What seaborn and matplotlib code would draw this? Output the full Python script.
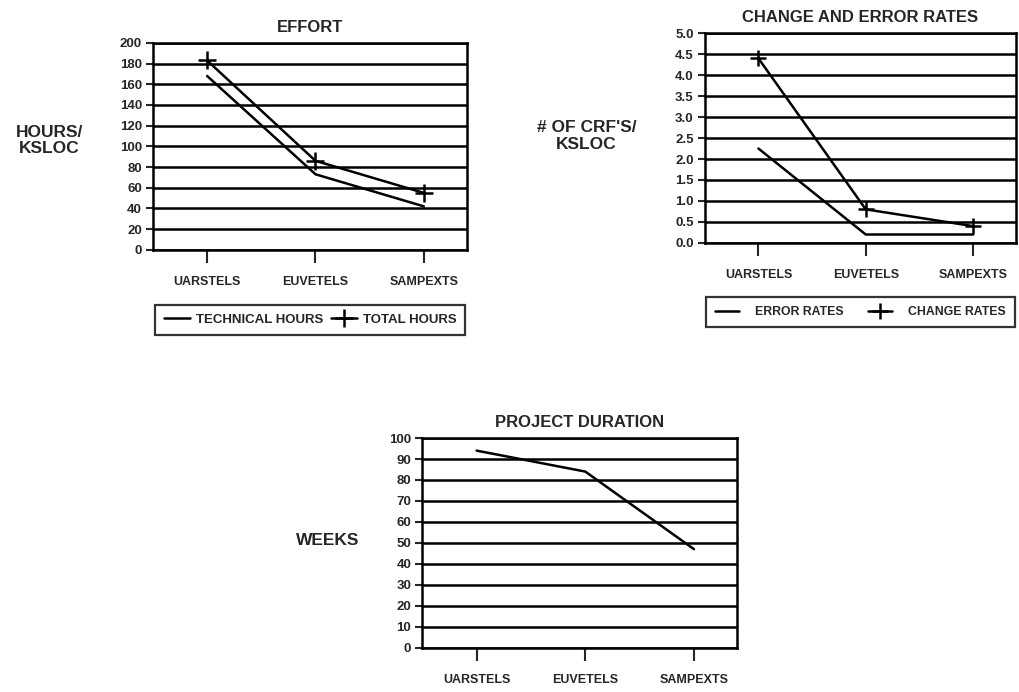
import matplotlib
matplotlib.use('Agg')
import matplotlib.pyplot as plt
import seaborn as sns

# data
projects = ['UARSTELS', 'EUVETELS', 'SAMPEXTS']
technical_hours = [168, 73, 42]
total_hours = [183, 86, 55]
error_rates = [2.25, 0.2, 0.2]
change_rates = [4.4, 0.8, 0.4]
duration_weeks = [94, 84, 47]

sns.set_style('ticks')
plt.rcParams['font.family'] = ['Liberation Sans', 'DejaVu Sans']
plt.rcParams['font.weight'] = 'bold'


def style_axis(ax, ymax, ystep, fmt, title, ylabel, label_xy):
    ax.set_xlim(-0.5, 2.4)
    ax.set_ylim(0, ymax)
    ticks = [i * ystep for i in range(int(round(ymax / ystep)) + 1)]
    ax.set_yticks(ticks)
    ax.set_yticklabels([fmt.format(t) for t in ticks], fontsize=9.5, fontweight='bold')
    ax.set_xticks(range(len(projects)))
    ax.set_xticklabels(projects, fontsize=9, fontweight='bold')
    ax.tick_params(axis='x', length=9, width=1.5, pad=10, direction='out')
    ax.tick_params(axis='y', length=5, width=1.5, pad=3, direction='out')
    ax.yaxis.grid(True, color='black', lw=1.8)
    ax.set_axisbelow(True)
    for sp in ax.spines.values():
        sp.set_visible(True)
        sp.set_color('black')
        sp.set_linewidth(1.8)
    ax.set_title(title, fontsize=12, fontweight='bold', pad=8)
    ax.set_xlabel('')
    ax.set_ylabel(ylabel, rotation=0, fontsize=12.5, fontweight='bold',
                  ha='center', va='center', linespacing=1.1)
    ax.yaxis.set_label_coords(*label_xy)


def boxed_legend(ax, y0, colsp, textpad, size):
    leg = ax.legend(loc='upper center', bbox_to_anchor=(0.5, y0),
                    ncol=2, frameon=True, fancybox=False,
                    handlelength=2.0, handletextpad=textpad, borderpad=0.7,
                    columnspacing=colsp, borderaxespad=0.0,
                    prop={'weight': 'bold', 'size': size})
    leg.get_frame().set_edgecolor('black')
    leg.get_frame().set_linewidth(1.6)
    return leg


fig = plt.figure(figsize=(10.2, 6.92), dpi=100)

# effort
ax1 = fig.add_axes([0.150, 0.639, 0.308, 0.299])
sns.lineplot(x=projects, y=technical_hours, ax=ax1, color='black', lw=1.8,
             label='TECHNICAL HOURS', sort=False)
sns.lineplot(x=projects, y=total_hours, ax=ax1, color='black', lw=1.8,
             marker='+', markersize=13, markeredgewidth=1.8,
             markeredgecolor='black', label='TOTAL HOURS', sort=False)
style_axis(ax1, 200, 20, '{:.0f}', 'EFFORT', 'HOURS/\nKSLOC', (-0.33, 0.53))
boxed_legend(ax1, -0.265, 0.6, 0.4, 9.5)

# change and error rates
ax2 = fig.add_axes([0.691, 0.649, 0.305, 0.303])
sns.lineplot(x=projects, y=error_rates, ax=ax2, color='black', lw=1.8,
             label='ERROR RATES', sort=False)
sns.lineplot(x=projects, y=change_rates, ax=ax2, color='black', lw=1.8,
             marker='+', markersize=11, markeredgewidth=1.8,
             markeredgecolor='black', label='CHANGE RATES', sort=False)
style_axis(ax2, 5.0, 0.5, '{:.1f}', 'CHANGE AND ERROR RATES',
           "# OF CRF'S/\nKSLOC", (-0.38, 0.51))
boxed_legend(ax2, -0.26, 2.0, 1.3, 8.8)

# project duration
ax3 = fig.add_axes([0.414, 0.064, 0.309, 0.303])
sns.lineplot(x=projects, y=duration_weeks, ax=ax3, color='black', lw=1.8,
             sort=False)
style_axis(ax3, 100, 10, '{:.0f}', 'PROJECT DURATION', 'WEEKS', (-0.30, 0.51))

fig.savefig('out.png', dpi=100, facecolor='white')
